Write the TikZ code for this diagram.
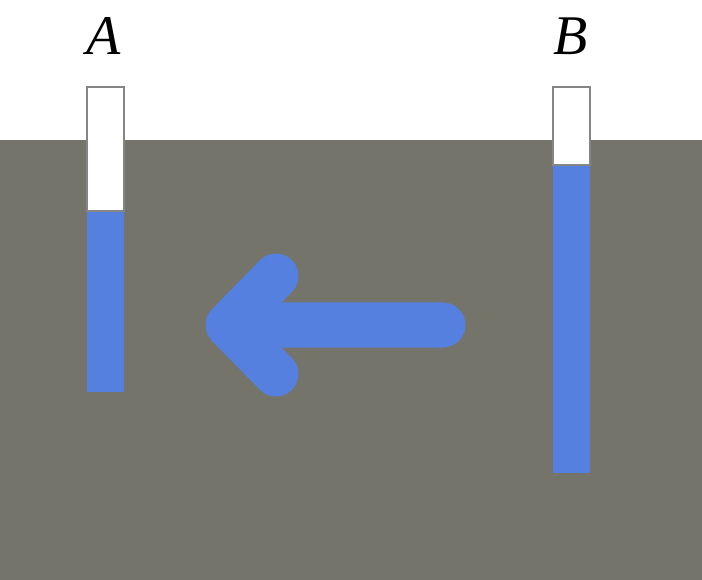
\documentclass[tikz,border=0pt]{standalone}
\usepackage{fontspec}
\setmainfont{Liberation Serif}
\usepackage{xcolor}
\usepackage{tikz}
\definecolor{soil}{HTML}{75746B}
\definecolor{water}{HTML}{5680E0}
\definecolor{rim}{HTML}{858585}
\tikzset{
  tubeair/.style={fill=white, draw=rim, line width=2pt},
  tubewater/.style={fill=water},
  wellname/.style={font=\fontsize{56}{56}\selectfont\itshape, anchor=base},
}

\begin{document}
\begin{tikzpicture}[x=1pt, y=-1pt]
  \useasboundingbox (0,0) rectangle (702,580);
  % ground
  \fill[soil] (0,140) rectangle (702,580);
  % tube A
  \draw[tubeair] (87,87) rectangle (123.5,211);
  \fill[tubewater] (86.5,212.5) rectangle (124,392);
  \node[wellname] (nameA) at (104,54.5) {A};
  % tube B
  \draw[tubeair] (553,87) rectangle (589.5,165);
  \fill[tubewater] (552.5,166.5) rectangle (590,473);
  \node[wellname] (nameB) at (571,54.5) {B};
  % flow arrow
  \coordinate (tail) at (443,325);
  \coordinate (tip) at (228,325);
  \draw[water, line width=45pt, line cap=round, line join=round]
    (tail) -- (tip) (276,276) -- (tip) -- (276,374);
\end{tikzpicture}
\end{document}
